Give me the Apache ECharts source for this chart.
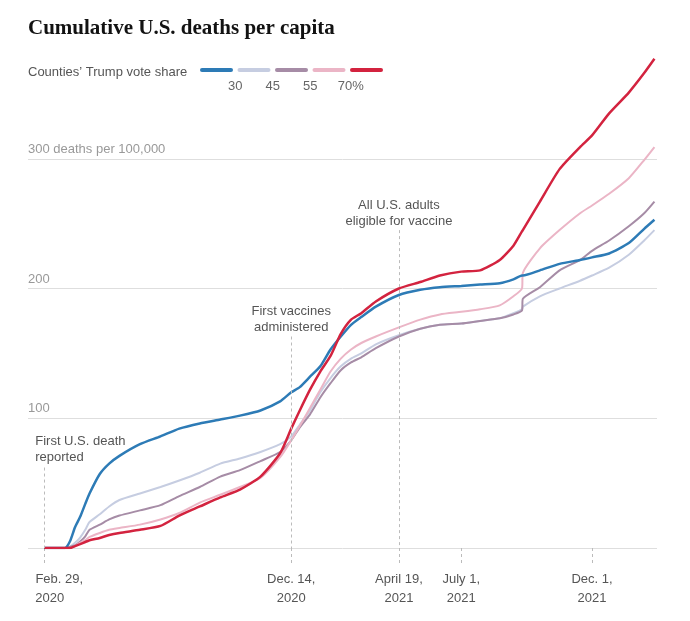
<!DOCTYPE html>
<html>
<head>
<meta charset="utf-8">
<title>Cumulative U.S. deaths per capita</title>
<script src="https://cdn.jsdelivr.net/npm/echarts@6/dist/echarts.min.js"></script>
<style>
  html, body { margin: 0; padding: 0; background: #fff; }
  #chart { width: 690px; height: 621px; }
</style>
</head>
<body>
<div id="chart"></div>
<script>
  // sample dates along the curves (deaths per 100,000)
  const dates = [
    '2020-02-29', '2020-03-24', '2020-03-30', '2020-04-05', '2020-04-11', '2020-04-17',
    '2020-04-22', '2020-05-04', '2020-05-15', '2020-05-27', '2020-06-20', '2020-07-14',
    '2020-08-05', '2020-08-29', '2020-09-22', '2020-10-15', '2020-11-08', '2020-12-01',
    '2020-12-14', '2020-12-24', '2021-01-05', '2021-01-17', '2021-01-29', '2021-02-10',
    '2021-02-22', '2021-03-06', '2021-03-23', '2021-04-19', '2021-05-14', '2021-06-06',
    '2021-07-01', '2021-07-23', '2021-08-15', '2021-08-31', '2021-09-10', '2021-09-11',
    '2021-10-01', '2021-10-24', '2021-11-17', '2021-12-01', '2021-12-21', '2022-01-13',
    '2022-01-31', '2022-02-12'
  ]
  const under30 = [
    0, 0, 5, 16, 24, 34, 42, 57, 65, 71, 80, 86, 92, 96, 99, 102, 106, 113, 120, 124,
    132, 140, 153, 163, 172, 178, 186, 195, 199, 201, 202, 203, 204, 207, 210, 210,
    214, 219, 222, 224, 227, 235, 246, 253
  ]
  const from30to45 = [
    0, 0, 1, 4, 8, 14, 20, 26, 32, 37, 42, 47, 52, 58, 65, 69, 74, 80, 86, 95,
    106, 120, 131, 140, 146, 150, 157, 164, 169, 172, 173, 175, 177, 181, 184, 186,
    194, 200, 206, 210, 216, 226, 237, 245
  ]
  const from45to55 = [
    0, 0, 1, 2, 5, 9, 14, 18, 22, 25, 29, 33, 40, 47, 55, 60, 67, 74, 83, 93,
    103, 116, 127, 137, 143, 147, 154, 163, 169, 172, 173, 175, 177, 180, 183, 192,
    201, 214, 222, 229, 237, 248, 258, 267
  ]
  const from55to70 = [
    0, 0, 0, 1.5, 4, 6, 8.5, 11.6, 14, 15.4, 18, 22, 27, 35, 41, 47, 54, 70, 83, 94,
    108, 122, 136, 146, 153, 158, 163, 170, 176, 180, 182, 184, 187, 194, 200, 212,
    231, 245, 258, 264, 273, 285, 299, 309
  ]
  const over70 = [
    0, 0, 0, 1.5, 3, 4.6, 6, 7.7, 10, 11.6, 14, 17, 25, 32, 39, 45, 55, 73, 92, 106,
    122, 136, 148, 165, 176, 181, 190, 200, 205, 210, 213, 214, 222, 233, 244, 245,
    267, 292, 309, 318, 335, 351, 366, 377
  ]

  const seriesNames = ['Under 30%', '30-45%', '45-55%', '55-70%', 'Over 70%']
  const seriesColors = ['#2d7bb6', '#c6cde1', '#a68ca6', '#ebb5c6', '#d3233f']
  const legendLabels = ['30', '45', '55', '70%']

  const tickDates = ['2020-02-29', '2020-12-14', '2021-04-19', '2021-07-01', '2021-12-01']
  const tickLabels = ['Feb. 29,\n2020', 'Dec. 14,\n2020', 'April 19,\n2021', 'July 1,\n2021', 'Dec. 1,\n2021']
  const yLabels = ['', '100', '200', '300 deaths per 100,000']

  const noteDates = ['2020-02-29', '2020-12-14', '2021-04-19']
  const noteTops = [62, 163, 245]
  const noteTexts = ['First U.S. death\nreported', 'First vaccines\nadministered', 'All U.S. adults\neligible for vaccine']

  const FONT = '"Liberation Sans", Arial, sans-serif'
  const ts = s => new Date(s + 'T00:00:00').getTime()
  const tickTs = tickDates.map(ts)

  const values = [under30, from30to45, from45to55, from55to70, over70]
  // draw order: light lines first, then blue and red on top
  const drawOrder = [1, 2, 3, 0, 4]

  const series = drawOrder.map((k, n) => {
    const s = {
      name: seriesNames[k],
      type: 'line',
      symbol: 'none',
      silent: true,
      smooth: 0.2,
      data: dates.map((d, i) => [ts(d), values[k][i]]),
      lineStyle: { color: seriesColors[k], width: (k === 0 || k === 4) ? 2.5 : 2 },
      itemStyle: { color: seriesColors[k] }
    }
    if (n === 0) {
      s.markLine = {
        silent: true,
        symbol: ['none', 'none'],
        label: { show: false },
        lineStyle: { color: '#bbb', width: 1, type: [3, 3] },
        data: noteDates.map((d, i) => [{ coord: [ts(d), noteTops[i]] }, { coord: [ts(d), 0] }])
      }
      s.markPoint = {
        silent: true,
        symbol: 'circle',
        symbolSize: 0,
        data: noteDates.map((d, i) => ({
          coord: [ts(d), noteTops[i]],
          label: {
            show: true,
            formatter: noteTexts[i],
            position: i === 0 ? [-9, -2] : [0, -1],
            align: i === 0 ? 'left' : 'center',
            verticalAlign: 'bottom',
            color: '#555',
            fontSize: 13,
            lineHeight: 16,
            fontFamily: FONT
          }
        }))
      }
    }
    return s
  })

  // legend: swatches with the break values between them
  const swLeft = 200, swW = 33, swGap = 4.5
  const graphic = [{
    type: 'text', x: 28, y: 72,
    style: { text: 'Counties’ Trump vote share', fill: '#555', font: '13px ' + FONT, verticalAlign: 'middle' }
  }]
  seriesColors.forEach((c, i) => {
    graphic.push({
      type: 'rect',
      shape: { x: swLeft + i * (swW + swGap), y: 68, width: swW, height: 4, r: 2 },
      style: { fill: c }
    })
  })
  legendLabels.forEach((t, i) => {
    graphic.push({
      type: 'text',
      x: swLeft + (i + 1) * (swW + swGap) - swGap / 2 + (i === 3 ? 3 : 0),
      y: 86,
      style: { text: t, fill: '#666', font: '13px ' + FONT, align: 'center', verticalAlign: 'middle' }
    })
  })

  const chart = echarts.init(document.getElementById('chart'))
  chart.setOption({
    animation: false,
    title: {
      text: 'Cumulative U.S. deaths per capita',
      left: 28, top: 18, padding: 0,
      textStyle: { fontFamily: '"Liberation Serif", serif', fontWeight: 'bold', fontSize: 21, color: '#121212' }
    },
    graphic: graphic,
    grid: { left: 28, right: 33, top: 29, bottom: 73 },
    // dates as timestamps on a plain value axis, so ticks can sit on chosen days
    xAxis: {
      type: 'value',
      min: ts('2020-02-10'),
      max: ts('2022-02-15'),
      axisLine: { show: false },
      splitLine: { show: false },
      axisTick: {
        show: true,
        customValues: tickTs,
        length: 16,
        lineStyle: { color: '#bbb', width: 1, type: [3, 3] }
      },
      axisLabel: {
        customValues: tickTs,
        margin: 22,
        color: '#555',
        fontSize: 13,
        lineHeight: 19,
        fontFamily: FONT,
        formatter: v => {
          const i = tickTs.indexOf(v)
          if (i < 0) return ''
          const lines = tickLabels[i].split('\n')
          // first label hangs to the right of its tick
          if (i === 0) return '{a|' + lines[0] + '}\n{b|' + lines[1] + '}'
          return tickLabels[i]
        },
        rich: {
          a: { padding: [0, 0, 0, 30], color: '#555', fontSize: 13, lineHeight: 19, fontFamily: FONT },
          b: { padding: [0, 0, 0, 11], color: '#555', fontSize: 13, lineHeight: 19, fontFamily: FONT }
        }
      }
    },
    yAxis: {
      type: 'value',
      min: 0,
      max: 400,
      interval: 100,
      axisLine: { show: false },
      axisTick: { show: false },
      splitLine: {
        lineStyle: { color: ['#dedede', '#dedede', '#dedede', '#dedede', 'rgba(0,0,0,0)'], width: 1 }
      },
      axisLabel: {
        inside: true,
        margin: 0,
        verticalAlign: 'bottom',
        padding: [0, 0, 3, 0],
        color: '#999',
        fontSize: 13,
        fontFamily: FONT,
        formatter: v => yLabels[v / 100] || ''
      }
    },
    series: series
  })
</script>
</body>
</html>
